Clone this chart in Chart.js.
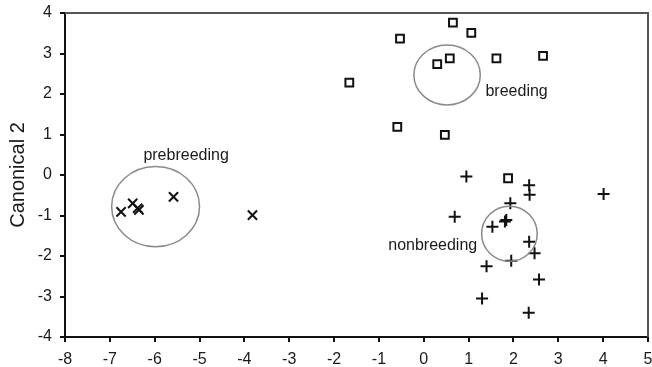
<!DOCTYPE html>
<html>
<head>
<meta charset="utf-8">
<script src="https://cdn.jsdelivr.net/npm/chart.js@4.4.1/dist/chart.umd.min.js"></script>
<style>
  html, body { margin: 0; padding: 0; background: #fff; }
  #chart { display: block; }
</style>
</head>
<body>
<canvas id="chart" width="652" height="367"></canvas>
<script>
// canonical scores per group
const breedingX = [0.65, 1.06, -0.53, 0.58, 0.30, 1.62, 2.66, -1.66, -0.59, 0.47, 1.88];
const breedingY = [3.76, 3.51, 3.37, 2.88, 2.74, 2.88, 2.94, 2.28, 1.19, 0.99, -0.08];

const prebreedingX = [-6.75, -6.49, -6.38, -6.35, -5.58, -3.82];
const prebreedingY = [-0.91, -0.70, -0.82, -0.86, -0.54, -0.99];

const nonbreedingX = [0.95, 2.35, 2.36, 4.01, 1.93, 0.69, 1.84, 1.81, 1.53, 2.35, 2.47, 1.95, 1.40, 2.57, 1.30, 2.34];
const nonbreedingY = [-0.04, -0.25, -0.49, -0.47, -0.70, -1.03, -1.11, -1.15, -1.28, -1.65, -1.93, -2.12, -2.25, -2.58, -3.05, -3.40];

// group centroids and circle radii (data units)
const groupNames = ['prebreeding', 'breeding', 'nonbreeding'];
const centroidX = [-5.98, 0.52, 1.91];
const centroidY = [-0.78, 2.47, -1.45];
const radiusX = [0.98, 0.74, 0.62];
const radiusY = [0.99, 0.74, 0.68];
const labelX = [-5.3, 2.07, 0.2];
const labelY = [0.49, 2.07, -1.75];

const xTicks = [-8, -7, -6, -5, -4, -3, -2, -1, 0, 1, 2, 3, 4, 5];
const yTicks = [-4, -3, -2, -1, 0, 1, 2, 3, 4];

const toPoints = (xs, ys) => xs.map((x, i) => ({ x: x, y: ys[i] }));

const FONT = "'Liberation Sans', Arial, sans-serif";

// circles, group names and the top/right frame
const groupsPlugin = {
  id: 'groups',
  afterDatasetsDraw(chart) {
    const ctx = chart.ctx;
    const xs = chart.scales.x;
    const ys = chart.scales.y;
    const area = chart.chartArea;
    ctx.save();

    ctx.strokeStyle = '#555';
    ctx.lineWidth = 2;
    ctx.beginPath();
    ctx.moveTo(area.left, area.top);
    ctx.lineTo(area.right, area.top);
    ctx.lineTo(area.right, area.bottom);
    ctx.stroke();

    ctx.strokeStyle = '#8a8a8a';
    ctx.lineWidth = 1.5;
    groupNames.forEach((name, i) => {
      const cx = xs.getPixelForValue(centroidX[i]);
      const cy = ys.getPixelForValue(centroidY[i]);
      const rx = Math.abs(xs.getPixelForValue(centroidX[i] + radiusX[i]) - cx);
      const ry = Math.abs(ys.getPixelForValue(centroidY[i] + radiusY[i]) - cy);
      ctx.beginPath();
      ctx.ellipse(cx, cy, rx, ry, 0, 0, Math.PI * 2);
      ctx.stroke();
    });

    ctx.fillStyle = '#1a1a1a';
    ctx.font = '16px ' + FONT;
    ctx.textAlign = 'center';
    ctx.textBaseline = 'middle';
    groupNames.forEach((name, i) => {
      ctx.fillText(name, xs.getPixelForValue(labelX[i]), ys.getPixelForValue(labelY[i]));
    });
    ctx.restore();
  }
};

new Chart(document.getElementById('chart'), {
  type: 'scatter',
  data: {
    datasets: [{
      label: 'breeding',
      data: toPoints(breedingX, breedingY),
      pointStyle: 'rect',
      pointRadius: 5.5,
      borderColor: '#111',
      backgroundColor: 'rgba(0,0,0,0)',
      borderWidth: 2
    }, {
      label: 'prebreeding',
      data: toPoints(prebreedingX, prebreedingY),
      pointStyle: 'crossRot',
      pointRadius: 6.5,
      borderColor: '#111',
      borderWidth: 2
    }, {
      label: 'nonbreeding',
      data: toPoints(nonbreedingX, nonbreedingY),
      pointStyle: 'cross',
      pointRadius: 6,
      borderColor: '#111',
      borderWidth: 2
    }]
  },
  options: {
    responsive: false,
    animation: false,
    layout: { autoPadding: false, padding: { top: 13, right: 4, left: 0, bottom: 0 } },
    plugins: {
      legend: { display: false },
      tooltip: { enabled: false }
    },
    scales: {
      x: {
        type: 'linear',
        min: -8,
        max: 5,
        afterBuildTicks: (scale) => { scale.ticks = xTicks.map(v => ({ value: v })); },
        afterFit: (scale) => {
          scale.height = 30;
          scale.paddingLeft = 0;
          scale.paddingRight = 0;
        },
        grid: { drawOnChartArea: false, drawTicks: true, tickLength: 5, color: '#111', lineWidth: 2 },
        border: { display: true, color: '#111', width: 2 },
        ticks: { color: '#1a1a1a', padding: 8, font: { family: FONT, size: 16 } }
      },
      y: {
        type: 'linear',
        min: -4,
        max: 4,
        afterBuildTicks: (scale) => { scale.ticks = yTicks.map(v => ({ value: v })); },
        afterFit: (scale) => {
          scale.width = 65;
          scale.paddingTop = 0;
          scale.paddingBottom = 0;
        },
        grid: { drawOnChartArea: false, drawTicks: true, tickLength: 5, color: '#111', lineWidth: 2 },
        border: { display: true, color: '#111', width: 2 },
        ticks: { color: '#1a1a1a', padding: 8, font: { family: FONT, size: 16 } },
        title: {
          display: true,
          text: 'Canonical 2',
          color: '#1a1a1a',
          font: { family: FONT, size: 20 },
          padding: { top: 6, bottom: 0 }
        }
      }
    }
  },
  plugins: [groupsPlugin]
});
</script>
</body>
</html>
